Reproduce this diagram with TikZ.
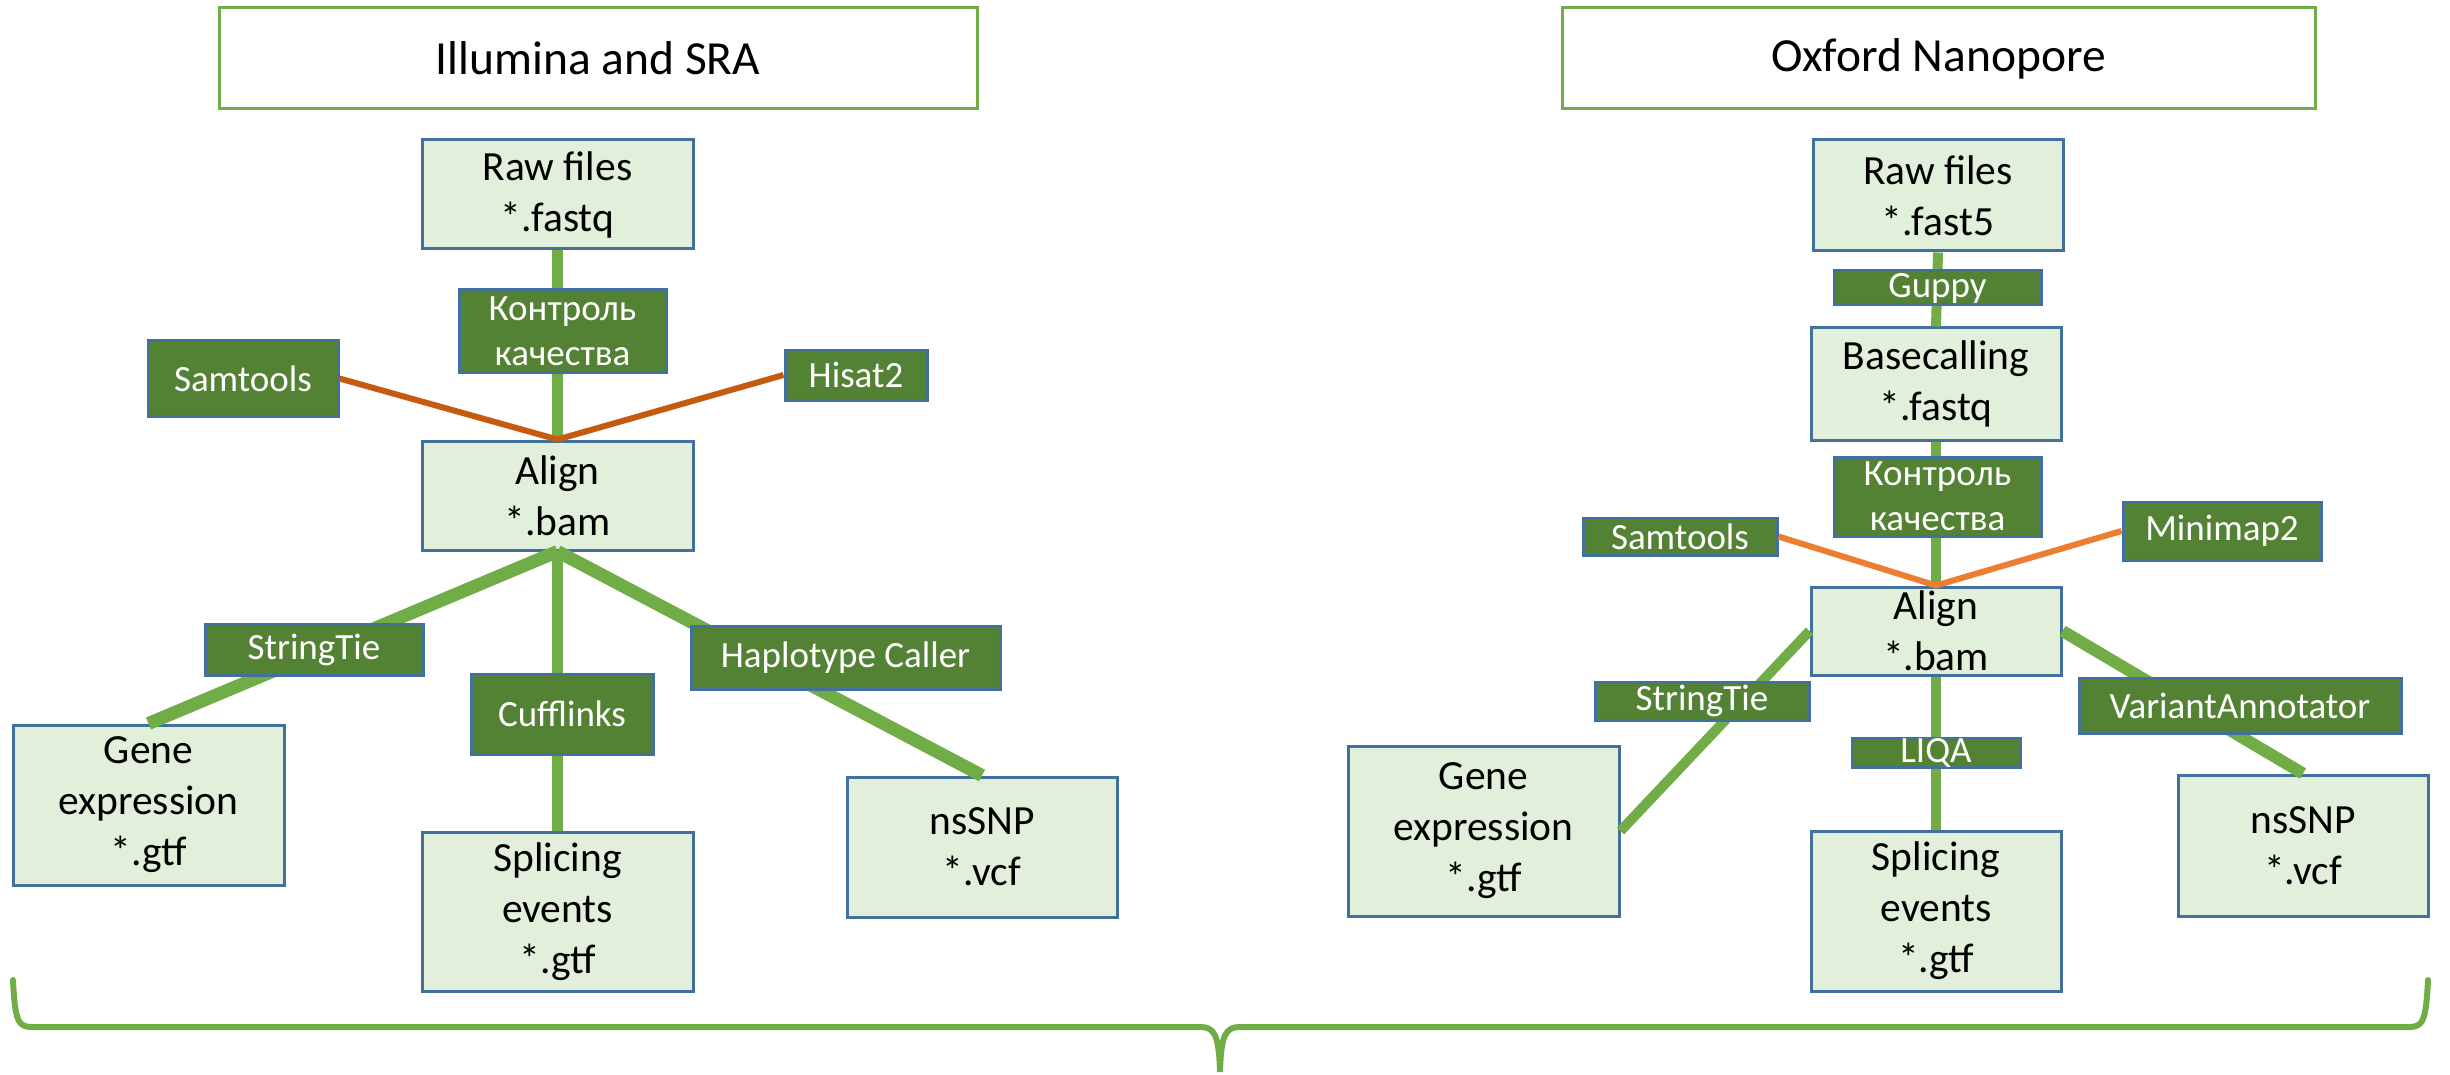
\documentclass[tikz,border=0pt]{standalone}
\usepackage{fontspec}
\setmainfont{Carlito}
\usetikzlibrary{calc,positioning}
\definecolor{boxfill}{HTML}{E2EFDA}
\definecolor{boxline}{HTML}{41719C}
\definecolor{toolfill}{HTML}{548235}
\definecolor{flowgreen}{HTML}{70AD47}
\definecolor{mapdark}{HTML}{C55A11}
\definecolor{maplight}{HTML}{ED7D31}
\tikzset{
    box size/.style 2 args={minimum width=#1pt,minimum height=#2pt},
    file box/.style={draw=boxline,line width=3pt,fill=boxfill,align=center,inner sep=0pt,
        font=\fontsize{41.5}{51}\selectfont},
    tool box/.style={draw=boxline,line width=3pt,fill=toolfill,text=white,align=center,inner sep=0pt,
        font=\fontsize{37}{45}\selectfont},
    head box/.style={draw=flowgreen,line width=3pt,fill=white,inner sep=0pt,
        font=\fontsize{47.5}{57}\selectfont},
    flow/.style={draw=flowgreen,line width=11pt},
    map dark/.style={draw=mapdark,line width=6pt},
    map light/.style={draw=maplight,line width=6pt},
    brace line/.style={draw=flowgreen,line width=6pt,line cap=round}
}
\begin{document}
\begin{tikzpicture}[x=1pt,y=-1pt]
        \useasboundingbox (0,0) rectangle (2450,1075);

        \node[head box,box size={758}{101}] (headL) at (598,58.5) {Illumina and SRA};
        \node[head box,box size={753}{101}] (headR) at (1938.5,58.5) {Oxford Nanopore};

        \node[file box,box size={271}{109}] (rawL) at (557.5,194.5) {Raw files\\*.fastq};
        \node[file box,box size={271}{109}] (alignL) at (557.5,495.5) {Align\\*.bam};
        \node[file box,box size={271}{160}] (geneL) at (148.5,805) {Gene\\expression\\*.gtf};
        \node[file box,box size={271}{159}] (spliceL) at (557.5,911.5) {Splicing\\events\\*.gtf};
        \node[file box,box size={270}{140}] (snpL) at (982,847) {nsSNP\\*.vcf};

        \node[file box,box size={250}{111}] (rawR) at (1938,195.5) {Raw files\\*.fast5};
        \node[file box,box size={250}{112}] (baseR) at (1936,384) {Basecalling\\*.fastq};
        \node[file box,box size={250}{88}] (alignR) at (1936,631) {Align\\*.bam};
        \node[file box,box size={271}{170}] (geneR) at (1483.5,831) {Gene\\expression\\*.gtf};
        \node[file box,box size={250}{160}] (spliceR) at (1936,911) {Splicing\\events\\*.gtf};
        \node[file box,box size={250}{141}] (snpR) at (2303,845.5) {nsSNP\\*.vcf};

        \draw[flow] (rawL.south) -- (alignL.north);
        \draw[flow,line width=13pt] (alignL.south) -- (geneL.north);
        \draw[flow] (alignL.south) -- (spliceL.north);
        \draw[flow,line width=13pt] (alignL.south) -- (snpL.north);

        \draw[flow,line width=10pt] (rawR.south) -- (baseR.north);
        \draw[flow,line width=10pt] (baseR.south) -- (alignR.north);
        \draw[flow,line width=10pt] (alignR.west) -- (geneR.east);
        \draw[flow,line width=10pt] (alignR.south) -- (spliceR.north);
        \draw[flow,line width=12pt] (alignR.east) -- (snpR.north);

        \node[tool box,box size={207}{82}] (qcL) at (562.5,331) {Контроль\\качества};
        \node[tool box,box size={190}{75}] (samL) at (243,378.5) {Samtools};
        \node[tool box,box size={142}{50}] (hisL) at (856,375) {Hisat2};
        \node[tool box,box size={218}{51}] (stieL) at (314,649.5) {StringTie};
        \node[tool box,box size={182}{80}] (cuffL) at (562,714) {Cufflinks};
        \node[tool box,box size={309}{63}] (hapL) at (845.5,657.5) {Haplotype Caller};

        \node[tool box,box size={207}{34}] (guppyR) at (1937.5,288) {Guppy};
        \node[tool box,box size={207}{79}] (qcR) at (1937.5,496.5) {Контроль\\качества};
        \node[tool box,box size={194}{37}] (samR) at (1680,536.5) {Samtools};
        \node[tool box,box size={198}{58}] (mapR) at (2222,531) {Minimap2};
        \node[tool box,box size={214}{38}] (stieR) at (1702,701) {StringTie};
        \node[tool box,box size={168}{28}] (liqaR) at (1936,753) {LIQA};
        \node[tool box,box size={322}{55}] (varR) at (2240,705.5) {VariantAnnotator};

        \draw[map dark] (samL.east) -- (alignL.north) -- (hisL.west);
        \draw[map light] (samR.east) -- (alignR.north) -- (mapR.west);

        \draw[brace line] (13,980) .. controls (15,1021) and (18,1027) .. (32,1027) -- (1200,1027)
            .. controls (1214,1027) and (1219,1034) .. (1220,1072)
            .. controls (1221,1034) and (1226,1027) .. (1240,1027) -- (2409,1027)
            .. controls (2423,1027) and (2426,1021) .. (2428,980);
\end{tikzpicture}
\end{document}
